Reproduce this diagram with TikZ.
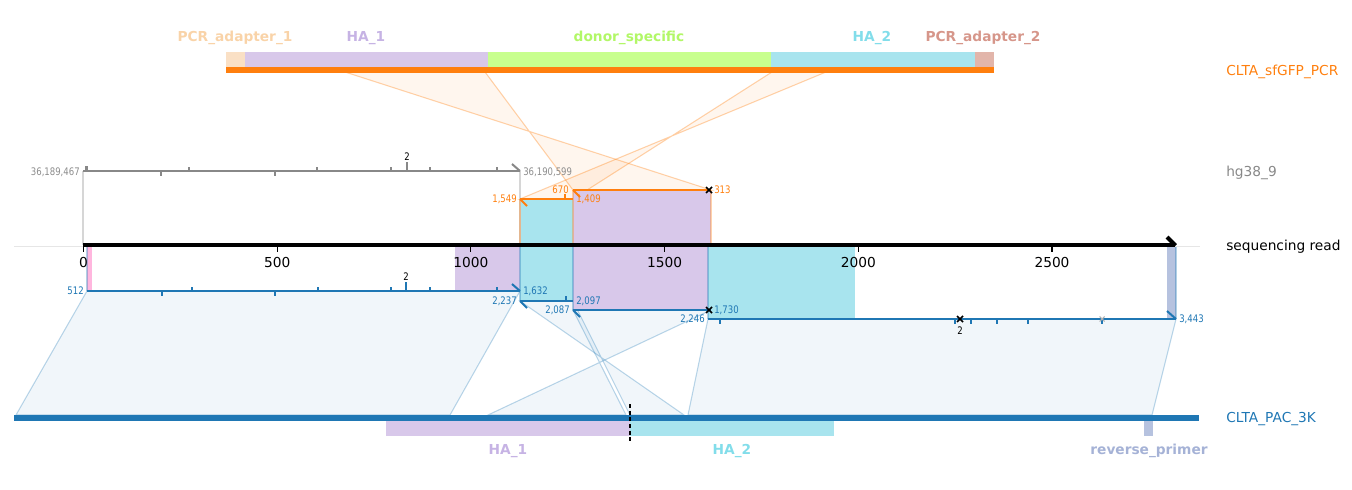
\documentclass[tikz,border=0pt]{standalone}
\usepackage{fontspec}
\setmainfont{DejaVu Sans}
\newfontfamily\numfont[FakeStretch=0.82]{DejaVu Sans}
\definecolor{tabOrange}{HTML}{FF7F0E}
\definecolor{tabBlue}{HTML}{1F77B4}
\definecolor{refGray}{HTML}{888888}
\definecolor{refLbl}{HTML}{8C8C8C}
\definecolor{axisGrid}{HTML}{E6E6E6}
\definecolor{edgeGray}{HTML}{D6D6D6}
% feature fills
\definecolor{lav}{HTML}{D8C8EA}
\definecolor{cyanA}{HTML}{A8E4EE}
\definecolor{pinkA}{HTML}{FFB6DE}
\definecolor{revP}{HTML}{B6C2DF}
\definecolor{adOne}{HTML}{FAE0C5}
\definecolor{donor}{HTML}{C8FF8E}
\definecolor{adTwo}{HTML}{E2B5AA}
% feature label colours
\definecolor{adOneL}{HTML}{F9D3A8}
\definecolor{lavL}{HTML}{C6B3E4}
\definecolor{donorL}{HTML}{B2F767}
\definecolor{cyanL}{HTML}{82DDEA}
\definecolor{adTwoL}{HTML}{D6968A}
\definecolor{revL}{HTML}{A5B2D6}
\begin{document}
\begin{tikzpicture}[x=0.75pt,y=-0.75pt,
  tracklbl/.style={anchor=west,inner sep=0pt,font=\fontsize{10.3}{12}\selectfont},
  featlbl/.style={inner sep=0pt,font=\fontsize{10.3}{12}\selectfont\bfseries},
  ticklbl/.style={inner sep=0pt,font=\fontsize{10.3}{12}\selectfont},
  numlbl/.style={inner sep=0pt,font=\numfont\fontsize{7.8}{9}\selectfont},
  seg/.style={line width=1.5pt},
  tk/.style={line width=1pt},
  alnOrange/.style={draw=tabOrange,draw opacity=0.35,fill=tabOrange,fill opacity=0.07,line width=0.8pt},
  alnBlue/.style={draw=tabBlue,draw opacity=0.3,fill=tabBlue,fill opacity=0.0625,line width=0.8pt},
  xmark/.style={black,line width=1.1pt}]
\useasboundingbox (0,0) rectangle (1352,489);

% ---------- anchor points of the aligned segments ----------
% CLTA_sfGFP_PCR alignments (orange)
\coordinate (A1) at (520,199); \coordinate (A2) at (573,199);
\coordinate (B1) at (573,190); \coordinate (B2) at (711,190);
% CLTA_PAC_3K alignments (blue)
\coordinate (C1) at (87,291);  \coordinate (C2) at (520,291);
\coordinate (D1) at (520,301); \coordinate (D2) at (573,301);
\coordinate (E1) at (573,310); \coordinate (E2) at (711,310);
\coordinate (F1) at (708,319); \coordinate (F2) at (1176,319);
% matching points on the two construct bars
\coordinate (tA1) at (826,72); \coordinate (tA2) at (772,72);
\coordinate (tB1) at (485,72); \coordinate (tB2) at (345,72);
\coordinate (bC1) at (16,415);  \coordinate (bC2) at (450,415);
\coordinate (bD1) at (684,415); \coordinate (bD2) at (630,415);
\coordinate (bE1) at (626,415); \coordinate (bE2) at (488,415);
\coordinate (bF1) at (688,415); \coordinate (bF2) at (1152,415);

% ---------- alignment ribbons ----------
\path[alnOrange] (tB2) -- (tB1) -- (B1) -- (B2) -- cycle;
\path[alnOrange] (tA2) -- (tA1) -- (A1) -- (A2) -- cycle;
\path[alnBlue] (C1) -- (C2) -- (bC2) -- (bC1) -- cycle;
\path[alnBlue] (D1) -- (D2) -- (bD2) -- (bD1) -- cycle;
\path[alnBlue] (E1) -- (E2) -- (bE2) -- (bE1) -- cycle;
\path[alnBlue] (F1) -- (F2) -- (bF2) -- (bF1) -- cycle;

% ---------- feature bands projected on the read ----------
\fill[pinkA] (87,246) rectangle (92,291);
\fill[lav] (455,246) rectangle (520,291);
\fill[cyanA] (520,199) rectangle (573,301);
\fill[lav] (573,190) rectangle (711,310);
\fill[cyanA] (708,246) rectangle (855,319);
\fill[revP] (1167,246) rectangle (1176,319);

% edges of the projected blocks
\draw[edgeGray,line width=0.8pt] (83,171) -- (83,245) (520,171) -- (520,245);
\draw[tabOrange,opacity=0.35,line width=0.8pt] (573,190) -- (573,245) (711,190) -- (711,245) (520,199) -- (520,245);
\draw[tabBlue,opacity=0.35,line width=0.8pt] (87,247) -- (87,291) (520,247) -- (520,301)
  (573,247) -- (573,310) (708,247) -- (708,319) (1176,247) -- (1176,319);

% ---------- construct bar: CLTA_sfGFP_PCR ----------
\fill[adOne] (226,52) rectangle (245,67);
\fill[lav] (245,52) rectangle (488,67);
\fill[donor] (488,52) rectangle (771,67);
\fill[cyanA] (771,52) rectangle (975,67);
\fill[adTwo] (975,52) rectangle (994,67);
\fill[tabOrange] (226,67) rectangle (994,73);
\node[featlbl,text=adOneL] (fPA1) at (235,38) {PCR\_adapter\_1};
\node[featlbl,text=lavL] (fHA1t) at (366,38) {HA\_1};
\node[featlbl,text=donorL] (fDon) at (629,38) {donor\_specific};
\node[featlbl,text=cyanL] (fHA2t) at (872,38) {HA\_2};
\node[featlbl,text=adTwoL] (fPA2) at (983,38) {PCR\_adapter\_2};

% ---------- construct bar: CLTA_PAC_3K ----------
\fill[lav] (386,421) rectangle (630,436);
\fill[cyanA] (630,421) rectangle (834,436);
\fill[revP] (1144,421) rectangle (1153,436);
\fill[tabBlue] (14,415) rectangle (1199,421);
\draw[black,line width=0.9pt,dash pattern=on 3pt off 2pt] (630,404) -- (630,441);
\node[featlbl,text=lavL] (fHA1b) at (508,451) {HA\_1};
\node[featlbl,text=cyanL] (fHA2b) at (732,451) {HA\_2};
\node[featlbl,text=revL] (fRev) at (1149,451) {reverse\_primer};

% ---------- reference hg38_9 ----------
\draw[refGray,seg] (83,171) -- (520,171);
\draw[refGray,line width=2.2pt] (86.5,166) -- (86.5,171);
\foreach \x in {189,317,391,430,497} \draw[refGray,tk] (\x,167) -- (\x,171);
\foreach \x in {161,275} \draw[refGray,tk] (\x,171) -- (\x,176);
\draw[refGray,line width=1.6pt] (407,162) -- (407,171);
\draw[refGray,seg] (512,164) -- (520,171);
\node[numlbl,text=black] (rDup) at (407,157) {2};
\node[numlbl,text=refLbl,anchor=east] (rStart) at (80,172) {36,189,467};
\node[numlbl,text=refLbl,anchor=west] (rEnd) at (523,172) {36,190,599};

% ---------- orange segments ----------
\draw[tabOrange,seg] (A1) -- (A2);
\draw[tabOrange,seg] (520,199) -- (527,206);
\draw[tabOrange,tk] (565,194) -- (565,199);
\draw[tabOrange,seg] (B1) -- (B2);
\draw[tabOrange,seg] (573,190) -- (580,197);
\draw[xmark] (706,187) -- (712,193) (706,193) -- (712,187);
\node[numlbl,text=tabOrange,anchor=east] (oA1) at (517,199) {1,549};
\node[numlbl,text=tabOrange,anchor=west] (oA2) at (576,199) {1,409};
\node[numlbl,text=tabOrange,anchor=east] (oB1) at (569,190) {670};
\node[numlbl,text=tabOrange,anchor=west] (oB2) at (714,190) {313};

% ---------- blue segments ----------
\draw[tabBlue,seg] (C1) -- (C2);
\foreach \x in {192,318,391,430,497} \draw[tabBlue,tk] (\x,287) -- (\x,291);
\foreach \x in {162,275} \draw[tabBlue,tk] (\x,291) -- (\x,296);
\draw[tabBlue,line width=1.6pt] (406,282) -- (406,291);
\draw[tabBlue,seg] (512,284) -- (520,291);
\node[numlbl,text=black] (cDup) at (406,277) {2};
\node[numlbl,text=tabBlue,anchor=east] (bC1l) at (84,291) {512};
\node[numlbl,text=tabBlue,anchor=west] (bC2l) at (523,291) {1,632};

\draw[tabBlue,seg] (D1) -- (D2);
\draw[tabBlue,seg] (520,301) -- (527,308);
\draw[tabBlue,tk] (566,296) -- (566,301);
\node[numlbl,text=tabBlue,anchor=east] (bD1l) at (517,301) {2,237};
\node[numlbl,text=tabBlue,anchor=west] (bD2l) at (576,301) {2,097};

\draw[tabBlue,seg] (E1) -- (E2);
\draw[tabBlue,seg] (573,310) -- (580,317);
\draw[xmark] (706,307) -- (712,313) (706,313) -- (712,307);
\node[numlbl,text=tabBlue,anchor=east] (bE1l) at (570,310) {2,087};
\node[numlbl,text=tabBlue,anchor=west] (bE2l) at (714,310) {1,730};

\draw[tabBlue,seg] (F1) -- (F2);
\foreach \x in {720,955,971,997,1028,1102} \draw[tabBlue,tk] (\x,319) -- (\x,324);
\draw[tabBlue,seg] (1167,311) -- (1176,319);
\draw[xmark] (957,316) -- (963,322) (957,322) -- (963,316);
\draw[black!30,line width=0.8pt] (1099.5,316.5) -- (1104.5,321.5) (1099.5,321.5) -- (1104.5,316.5);
\node[numlbl,text=black] (fDup) at (960,331) {2};
\node[numlbl,text=tabBlue,anchor=east] (bF1l) at (705,319) {2,246};
\node[numlbl,text=tabBlue,anchor=west] (bF2l) at (1179,319) {3,443};

% ---------- sequencing read axis ----------
\draw[axisGrid,line width=0.75pt] (14,246) -- (1200,246);
\draw[black,line width=3pt] (83,245) -- (1175,245);
\draw[black,line width=3pt] (1167,237) -- (1175.5,245.5);
\foreach \x/\t in {83.5/0,277.2/500,470.9/1000,664.6/1500,858.3/2000,1052/2500} {
  \draw[black,line width=0.8pt] (\x,247) -- (\x,252);
  \node[ticklbl] (tick\t) at (\x,262.5) {\t};
}

% ---------- track names ----------
\node[tracklbl,text=tabOrange] (tPCR) at (1226,71.5) {CLTA\_sfGFP\_PCR};
\node[tracklbl,text=refGray] (tRef) at (1226,172.5) {hg38\_9};
\node[tracklbl,text=black] (tRead) at (1226,246.5) {sequencing read};
\node[tracklbl,text=tabBlue] (tPAC) at (1226,419.5) {CLTA\_PAC\_3K};
\end{tikzpicture}
\end{document}
